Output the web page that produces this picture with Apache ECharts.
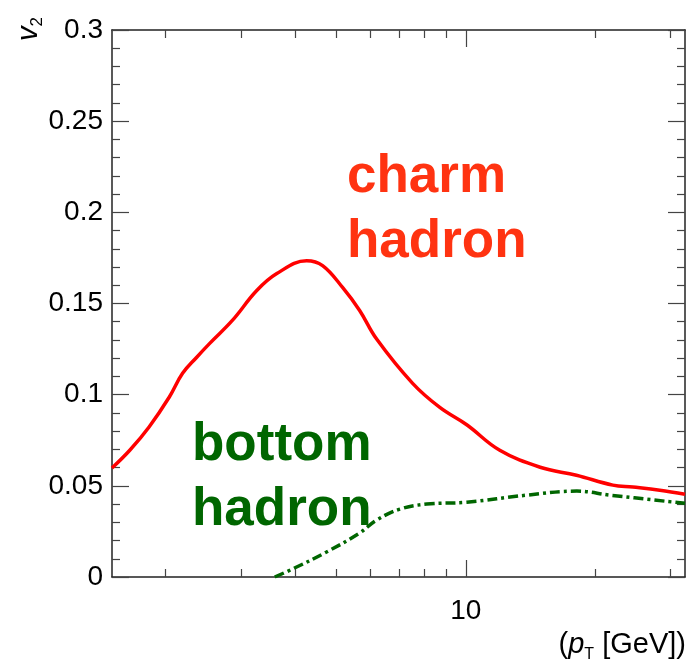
<!DOCTYPE html>
<html>
<head>
<meta charset="utf-8">
<script src="https://cdn.jsdelivr.net/npm/echarts@6/dist/echarts.min.js"></script>
<style>
  html, body { margin: 0; padding: 0; background: #fff; }
  #chart { width: 687px; height: 671px; }
</style>
</head>
<body>
<div id="chart"></div>
<script>
// charm hadron v2 vs pT
const charmPt = [1.5, 1.65, 1.83, 2.04, 2.19, 2.36, 2.53, 2.86, 3.26, 3.63, 4.26, 4.64, 5.17, 5.66, 6.2, 7.52, 8.7, 10.05, 12.0, 14.9, 18.1, 22.0, 24.5, 28.3, 32.4];
const charmV2 = [0.0598, 0.0695, 0.0823, 0.0987, 0.1117, 0.1204, 0.128, 0.1407, 0.1571, 0.1664, 0.1735, 0.1708, 0.1587, 0.1462, 0.1305, 0.1062, 0.093, 0.0835, 0.0695, 0.0602, 0.0558, 0.0504, 0.0493, 0.0476, 0.0454];

// bottom hadron v2 vs pT
const bottomPt = [3.59, 3.95, 4.74, 5.66, 6.2, 7.02, 8.11, 10.05, 13.87, 18.14, 21.66, 32.4];
const bottomV2 = [0, 0.0044, 0.0137, 0.0241, 0.0312, 0.0372, 0.04, 0.041, 0.0449, 0.0471, 0.0449, 0.0404];

// axis ticks
const xMajorTicks = [10];
const xMinorTicks = [2, 3, 4, 5, 6, 7, 8, 9, 20, 30];
const xMin = 1.5;
const xMax = 32.4;

const font = '"Liberation Sans", Helvetica, Arial, sans-serif';
const axisColor = '#222';
const tickColor = '#444';

const chart = echarts.init(document.getElementById('chart'));

const makeX = (position, ticks, len, showLine, showLabel) => ({
  type: 'log',
  logBase: 10,
  min: xMin,
  max: xMax,
  position: position,
  axisLine: { show: showLine, onZero: false, lineStyle: { color: axisColor, width: 1.5 } },
  axisTick: { show: true, inside: true, length: len, customValues: ticks, lineStyle: { color: tickColor, width: 1.2 } },
  axisLabel: showLabel
    ? { show: true, customValues: xMajorTicks, color: '#000', fontSize: 28, fontFamily: font, margin: 20 }
    : { show: false },
  splitLine: { show: false },
  minorTick: { show: false }
});

const makeY = (position, showLabel) => ({
  type: 'value',
  min: 0,
  max: 0.3,
  interval: 0.05,
  position: position,
  axisLine: { show: true, onZero: false, lineStyle: { color: axisColor, width: 1.5 } },
  axisTick: { show: true, inside: true, length: 17, lineStyle: { color: tickColor, width: 1.2 } },
  minorTick: { show: true, splitNumber: 5, length: 8, lineStyle: { color: tickColor, width: 1.2 } },
  axisLabel: showLabel
    ? { show: true, color: '#000', fontSize: 28, fontFamily: font, margin: 9 }
    : { show: false },
  splitLine: { show: false }
});

const option = {
  animation: false,
  backgroundColor: '#fff',
  grid: { left: 112, right: 2, top: 30, bottom: 94, containLabel: false },
  xAxis: [
    makeX('bottom', xMajorTicks, 17, true, true),
    makeX('bottom', xMinorTicks, 8, false, false),
    makeX('top', xMajorTicks, 17, true, false),
    makeX('top', xMinorTicks, 8, false, false)
  ],
  yAxis: [makeY('left', true), makeY('right', false)],
  series: [
    {
      name: 'charm hadron',
      type: 'line',
      xAxisIndex: 0,
      yAxisIndex: 0,
      smooth: 0.4,
      showSymbol: false,
      lineStyle: { color: '#ff0000', width: 3.5 },
      data: charmPt.map((p, i) => [p, charmV2[i]])
    },
    {
      name: 'bottom hadron',
      type: 'line',
      xAxisIndex: 0,
      yAxisIndex: 0,
      smooth: 0.4,
      showSymbol: false,
      lineStyle: { color: '#006600', width: 3.5, type: [10, 4, 3, 4] },
      data: bottomPt.map((p, i) => [p, bottomV2[i]])
    }
  ],
  graphic: [
    {
      type: 'text', x: 347, y: 275,
      style: { text: 'charm\nhadron', fill: '#ff3311', font: 'bold 53px ' + font, lineHeight: 65, align: 'left', verticalAlign: 'bottom' }
    },
    {
      type: 'text', x: 192, y: 543,
      style: { text: 'bottom\nhadron', fill: '#006600', font: 'bold 53px ' + font, lineHeight: 65, align: 'left', verticalAlign: 'bottom' }
    },
    {
      type: 'text', x: 686, y: 645,
      style: {
        text: '{n|(}{i|p}{s|T}{n| [GeV])}',
        align: 'right', verticalAlign: 'middle',
        rich: {
          n: { fontSize: 29, fontFamily: font, fill: '#000' },
          i: { fontSize: 29, fontFamily: font, fontStyle: 'italic', fill: '#000' },
          s: { fontSize: 16, fontFamily: font, fill: '#000', padding: [20, 0, 0, 0] }
        }
      }
    },
    {
      type: 'text', x: 29, y: 17,
      rotation: Math.PI / 2,
      style: {
        text: '{i|v}{s|2}',
        align: 'right', verticalAlign: 'middle',
        rich: {
          i: { fontSize: 29, fontFamily: font, fontStyle: 'italic', fill: '#000' },
          s: { fontSize: 17, fontFamily: font, fill: '#000', padding: [16, 0, 0, 0] }
        }
      }
    }
  ]
};

chart.setOption(option);
</script>
</body>
</html>
